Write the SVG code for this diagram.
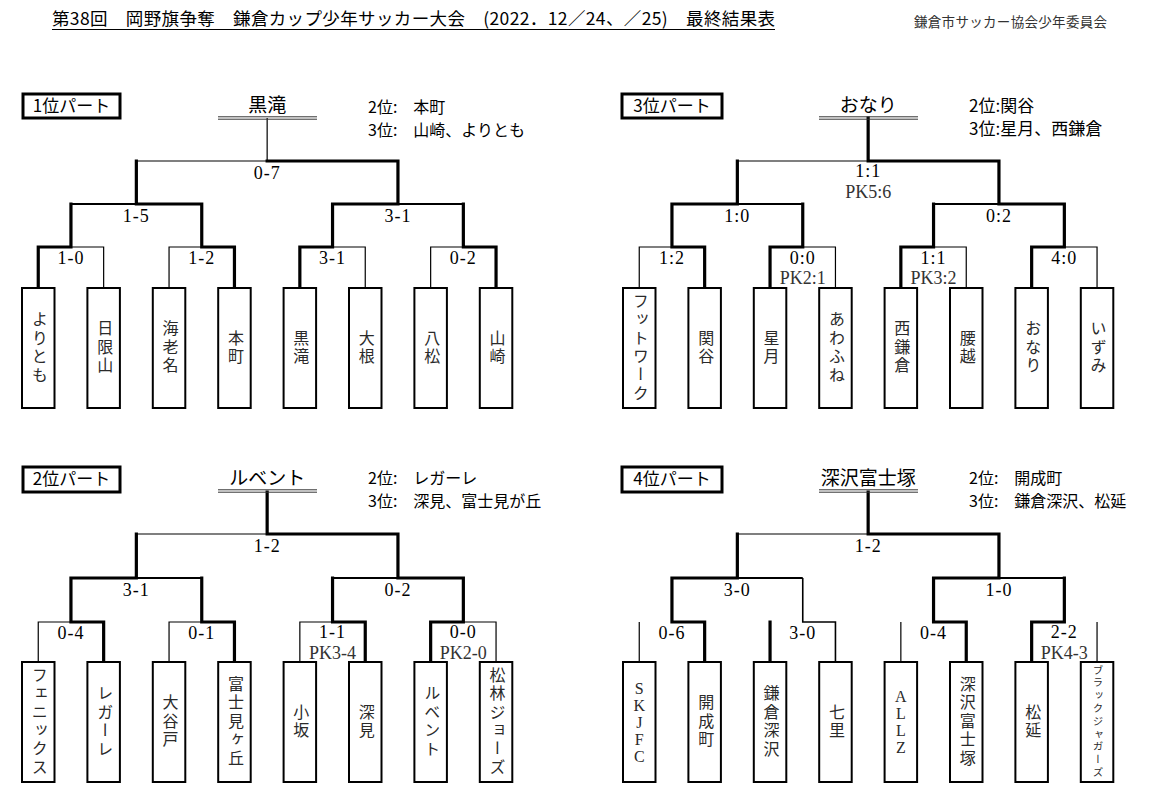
<svg xmlns="http://www.w3.org/2000/svg" width="1150" height="797" viewBox="0 0 1150 797">
<style>
.bg{fill:#fff}
.title{font-family:"Noto Sans CJK JP","Liberation Sans",sans-serif;font-size:17.5px;fill:#000}
.org{font-family:"Noto Sans CJK JP",sans-serif;font-size:13.5px;fill:#333}
.lbl rect{fill:#fff;stroke:#000;stroke-width:3}
.lbl text{font-family:"Noto Sans CJK JP",sans-serif;font-size:17px;text-anchor:middle;fill:#000}
.champ text{font-family:"Noto Sans CJK JP",sans-serif;font-size:19px;text-anchor:middle;fill:#000}
.champ line{stroke:#333;stroke-width:1}
.info{font-family:"Noto Sans CJK JP",sans-serif;font-size:16px;fill:#000}
.info3{font-size:17px}
.team rect{fill:#fff;stroke:#000;stroke-width:2}
.team text{font-family:"Liberation Serif","Noto Sans CJK JP",serif;font-size:16px;writing-mode:vertical-rl;text-anchor:middle;letter-spacing:2.5px;fill:#2a2a2a}
.team text.up{text-orientation:upright;letter-spacing:0}
.team text.sm{font-size:10.5px;letter-spacing:2.3px}
.team text.six{letter-spacing:2.4px}
.b{fill:none;stroke:#000;stroke-width:3.2;stroke-linecap:square;stroke-linejoin:miter}
.t{fill:none;stroke:#000;stroke-width:1.2}
.m{fill:none;stroke:#000;stroke-width:2.2}
.score text{font-family:"Liberation Serif",serif;font-size:18px;text-anchor:middle;fill:#000;letter-spacing:1px}
.score text.pk{fill:#333;letter-spacing:0}
</style>
<rect class="bg" x="0" y="0" width="1150" height="797"/>

<g id="title">
<text class="title" x="52" y="25" textLength="723" lengthAdjust="spacing">第38回　岡野旗争奪　鎌倉カップ少年サッカー大会　(2022．12／24、／25)　最終結果表</text>
<line x1="52" y1="29.5" x2="775" y2="29.5" stroke="#000" stroke-width="1"/>
</g>
<g id="organizer"><text class="org" x="914" y="27" textLength="193" lengthAdjust="spacing">鎌倉市サッカー協会少年委員会</text></g>

<g id="connectors">
<!-- section 1 -->
<path class="t" d="M103.65,288V247H70.95M169.05,288V247H201.75M365.25,288V247H332.55M430.65,288V247H463.35M136.35,161H267.15M267.15,161V118"/>
<path class="m" d="M70.95,204H136.35M463.35,204H397.95"/>
<path class="b" d="M38.25,288V247H70.95V204M234.45,288V247H201.75V204M299.85,288V247H332.55V204M496.05,288V247H463.35V204M201.75,204H136.35V161M332.55,204H397.95V161M397.95,161H267.15"/>
<!-- section 3 -->
<path class="t" d="M639.25,288V247H671.95M835.45,288V247H802.75M966.25,288V247H933.55M1097.05,288V247H1064.35M737.35,161H868.15"/>
<path class="m" d="M802.75,204H737.35M933.55,204H998.95"/>
<path class="b" d="M704.65,288V247H671.95V204M770.05,288V247H802.75V204M900.85,288V247H933.55V204M1031.65,288V247H1064.35V204M671.95,204H737.35V161M1064.35,204H998.95V161M998.95,161H868.15V118"/>
<!-- section 2 -->
<path class="t" d="M38.25,662V622H70.95M169.05,662V622H201.75M299.85,662V622H332.55M496.05,662V622H463.35M136.35,534H267.15"/>
<path class="m" d="M201.75,578H136.35M332.55,578H397.95"/>
<path class="b" d="M103.65,662V622H70.95V578M234.45,662V622H201.75V578M365.25,662V622H332.55V578M430.65,662V622H463.35V578M70.95,578H136.35V534M463.35,578H397.95V534M397.95,534H267.15V492"/>
<!-- section 4 -->
<path class="t" d="M639.25,662V622M900.85,662V622M1097.05,662V622M737.35,534H868.15"/>
<path class="t" style="stroke-width:1.6" d="M835.45,662V622H802.75V578"/>
<path class="m" d="M802.75,578H737.35M1064.35,578H998.95"/>
<path class="b" d="M704.65,662V622H671.95V578M770.05,662V622M966.25,662V622H933.55V578M1031.65,662V622H1064.35V578M671.95,578H737.35V534M933.55,578H998.95V534M998.95,534H868.15V492"/>
</g>

<!-- section labels -->
<g id="part1" class="lbl"><rect x="23" y="94" width="97" height="24"/><text x="71.5" y="112">1位パート</text></g>
<g id="part3" class="lbl"><rect x="622" y="94" width="100" height="24"/><text x="672" y="112">3位パート</text></g>
<g id="part2" class="lbl"><rect x="23" y="467" width="97" height="25"/><text x="71.5" y="485">2位パート</text></g>
<g id="part4" class="lbl"><rect x="622" y="467" width="100" height="25"/><text x="672" y="485">4位パート</text></g>

<!-- champions -->
<g id="champ1" class="champ"><text x="267.15" y="112">黒滝</text><line x1="218" y1="116.8" x2="317" y2="116.8"/><line x1="218" y1="119.2" x2="317" y2="119.2"/></g>
<g id="champ3" class="champ"><text x="868.15" y="112">おなり</text><line x1="819" y1="116.8" x2="918" y2="116.8"/><line x1="819" y1="119.2" x2="918" y2="119.2"/></g>
<g id="champ2" class="champ"><text x="267.15" y="485">ルベント</text><line x1="218" y1="489.8" x2="317" y2="489.8"/><line x1="218" y1="492.2" x2="317" y2="492.2"/></g>
<g id="champ4" class="champ"><text x="868.15" y="485">深沢富士塚</text><line x1="819" y1="489.8" x2="918" y2="489.8"/><line x1="819" y1="492.2" x2="918" y2="492.2"/></g>

<!-- placings -->
<g id="result1"><text class="info" x="368" y="113">2位:　本町</text><text class="info" x="368" y="136">3位:　山崎、よりとも</text></g>
<g id="result3"><text class="info info3" x="969" y="112">2位:関谷</text><text class="info info3" x="969" y="135">3位:星月、西鎌倉</text></g>
<g id="result2"><text class="info" x="368" y="484">2位:　レガーレ</text><text class="info" x="368" y="507">3位:　深見、富士見が丘</text></g>
<g id="result4"><text class="info" x="969" y="484">2位:　開成町</text><text class="info" x="969" y="507">3位:　鎌倉深沢、松延</text></g>

<!-- scores -->
<g id="scores" class="score">
<text x="267.15" y="178.5">0-7</text>
<text x="136.35" y="221.5">1-5</text>
<text x="397.95" y="221.5">3-1</text>
<text x="70.95" y="264">1-0</text>
<text x="201.75" y="264">1-2</text>
<text x="332.55" y="264">3-1</text>
<text x="463.35" y="264">0-2</text>

<text x="868.15" y="177">1:1</text>
<text class="pk" x="868.15" y="197.5">PK5:6</text>
<text x="737.35" y="221.5">1:0</text>
<text x="998.95" y="221.5">0:2</text>
<text x="671.95" y="264">1:2</text>
<text x="802.75" y="263.5">0:0</text>
<text class="pk" x="802.75" y="284">PK2:1</text>
<text x="933.55" y="263.5">1:1</text>
<text class="pk" x="933.55" y="284">PK3:2</text>
<text x="1064.35" y="264">4:0</text>

<text x="267.15" y="551.5">1-2</text>
<text x="136.35" y="595.5">3-1</text>
<text x="397.95" y="595.5">0-2</text>
<text x="70.95" y="638.5">0-4</text>
<text x="201.75" y="638.5">0-1</text>
<text x="332.55" y="638">1-1</text>
<text class="pk" x="332.55" y="658.5">PK3-4</text>
<text x="463.35" y="638">0-0</text>
<text class="pk" x="463.35" y="658.5">PK2-0</text>

<text x="868.15" y="551.5">1-2</text>
<text x="737.35" y="595.5">3-0</text>
<text x="998.95" y="595.5">1-0</text>
<text x="671.95" y="638.5">0-6</text>
<text x="802.75" y="638.5">3-0</text>
<text x="933.55" y="638.5">0-4</text>
<text x="1064.35" y="638">2-2</text>
<text class="pk" x="1064.35" y="658.5">PK4-3</text>
</g>

<!-- section 1 teams -->
<g id="t-yoritomo" class="team"><rect x="22" y="288" width="32.5" height="120"/><text x="38.25" y="348">よりとも</text></g>
<g id="t-hikariyama" class="team"><rect x="87.4" y="288" width="32.5" height="120"/><text x="103.65" y="348">日限山</text></g>
<g id="t-ebina" class="team"><rect x="152.8" y="288" width="32.5" height="120"/><text x="169.05" y="348">海老名</text></g>
<g id="t-honcho" class="team"><rect x="218.2" y="288" width="32.5" height="120"/><text x="234.45" y="348">本町</text></g>
<g id="t-kurotaki" class="team"><rect x="283.6" y="288" width="32.5" height="120"/><text x="299.85" y="348">黒滝</text></g>
<g id="t-ohne" class="team"><rect x="349" y="288" width="32.5" height="120"/><text x="365.25" y="348">大根</text></g>
<g id="t-hachimatsu" class="team"><rect x="414.4" y="288" width="32.5" height="120"/><text x="430.65" y="348">八松</text></g>
<g id="t-yamasaki" class="team"><rect x="479.8" y="288" width="32.5" height="120"/><text x="496.05" y="348">山崎</text></g>

<!-- section 3 teams -->
<g id="t-footwork" class="team"><rect x="623" y="288" width="32.5" height="120"/><text class="six" x="639.25" y="348">フットワーク</text></g>
<g id="t-sekiya" class="team"><rect x="688.4" y="288" width="32.5" height="120"/><text x="704.65" y="348">関谷</text></g>
<g id="t-hoshizuki" class="team"><rect x="753.8" y="288" width="32.5" height="120"/><text x="770.05" y="348">星月</text></g>
<g id="t-awafune" class="team"><rect x="819.2" y="288" width="32.5" height="120"/><text x="835.45" y="348">あわふね</text></g>
<g id="t-nishikamakura" class="team"><rect x="884.6" y="288" width="32.5" height="120"/><text x="900.85" y="348">西鎌倉</text></g>
<g id="t-koshigoe" class="team"><rect x="950" y="288" width="32.5" height="120"/><text x="966.25" y="348">腰越</text></g>
<g id="t-onari" class="team"><rect x="1015.4" y="288" width="32.5" height="120"/><text x="1031.65" y="348">おなり</text></g>
<g id="t-izumi" class="team"><rect x="1080.8" y="288" width="32.5" height="120"/><text x="1097.05" y="348">いずみ</text></g>

<!-- section 2 teams -->
<g id="t-phoenix" class="team"><rect x="22" y="662" width="32.5" height="120"/><text class="six" x="38.25" y="722">フェニックス</text></g>
<g id="t-regale" class="team"><rect x="87.4" y="662" width="32.5" height="120"/><text x="103.65" y="722">レガーレ</text></g>
<g id="t-oyato" class="team"><rect x="152.8" y="662" width="32.5" height="120"/><text x="169.05" y="722">大谷戸</text></g>
<g id="t-fujimigaoka" class="team"><rect x="218.2" y="662" width="32.5" height="120"/><text x="234.45" y="722">富士見ヶ丘</text></g>
<g id="t-kosaka" class="team"><rect x="283.6" y="662" width="32.5" height="120"/><text x="299.85" y="722">小坂</text></g>
<g id="t-fukami" class="team"><rect x="349" y="662" width="32.5" height="120"/><text x="365.25" y="722">深見</text></g>
<g id="t-levent" class="team"><rect x="414.4" y="662" width="32.5" height="120"/><text x="430.65" y="722">ルベント</text></g>
<g id="t-shorinjaws" class="team"><rect x="479.8" y="662" width="32.5" height="120"/><text class="six" x="496.05" y="722">松林ジョーズ</text></g>

<!-- section 4 teams -->
<g id="t-skjfc" class="team"><rect x="623" y="662" width="32.5" height="120"/><text class="up" x="639.25" y="722">SKJFC</text></g>
<g id="t-kaiseicho" class="team"><rect x="688.4" y="662" width="32.5" height="120"/><text x="704.65" y="722">開成町</text></g>
<g id="t-kamakurafukasawa" class="team"><rect x="753.8" y="662" width="32.5" height="120"/><text x="770.05" y="722">鎌倉深沢</text></g>
<g id="t-shichiri" class="team"><rect x="819.2" y="662" width="32.5" height="120"/><text x="835.45" y="722">七里</text></g>
<g id="t-allz" class="team"><rect x="884.6" y="662" width="32.5" height="120"/><text class="up" x="900.85" y="722">ALLZ</text></g>
<g id="t-fukasawafujizuka" class="team"><rect x="950" y="662" width="32.5" height="120"/><text x="966.25" y="722">深沢富士塚</text></g>
<g id="t-matsunobu" class="team"><rect x="1015.4" y="662" width="32.5" height="120"/><text x="1031.65" y="722">松延</text></g>
<g id="t-blackjaguars" class="team"><rect x="1080.8" y="662" width="32.5" height="120"/><text class="sm" x="1097.05" y="722">ブラックジャガーズ</text></g>
</svg>
